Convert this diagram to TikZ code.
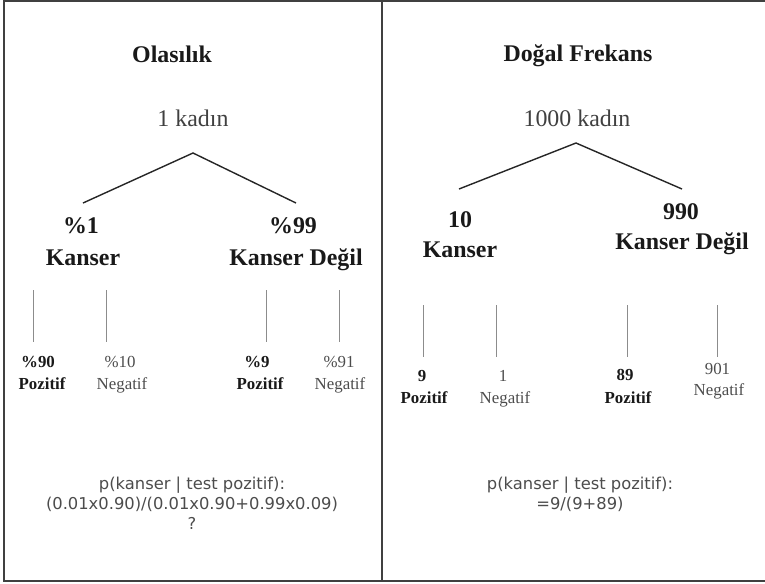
\documentclass[tikz,border=0pt]{standalone}
\usepackage{fontspec}
\setmainfont{Liberation Serif}
\newfontfamily\calcfont{DejaVu Sans}
\usepackage{tikz}
\usetikzlibrary{positioning}

\begin{document}
\begin{tikzpicture}[x=0.02cm, y=-0.02cm,
    frame/.style={draw=black!75, line width=1.1pt},
    branch/.style={draw=black!85, line width=0.8pt},
    leg/.style={draw=black!45, line width=0.5pt},
    head/.style={anchor=base, inner sep=0pt, text=black!90, font=\fontsize{13.6}{16}\selectfont\bfseries},
    count/.style={anchor=base, inner sep=0pt, text=black!75, font=\fontsize{13.6}{16}\selectfont},
    small/.style={anchor=base, inner sep=0pt, text=black!70, font=\fontsize{9.6}{11}\selectfont},
    smallb/.style={anchor=base, inner sep=0pt, text=black!90, font=\fontsize{9.6}{11}\selectfont\bfseries},
    calc/.style={anchor=base, inner sep=0pt, text=black!70, font=\fontsize{9.3}{11}\selectfont\calcfont}]
    \useasboundingbox (0,0) rectangle (765,583);
    
    % frame
    \path[frame] (765,1) -- (4,1) -- (4,581) -- (765,581);
    \path[frame] (382,1) -- (382,581);
    
    % left: probability
    \node[head] (titleL) at (172,62.5) {Olasılık};
    \node[count] (rootL) at (193,126.5) {1 kadın};
    
    \coordinate (apexL) at (193,153);
    \coordinate (endL1) at (83,203);
    \coordinate (endL2) at (296,203);
    \path[branch] (endL1) -- (apexL) -- (endL2);
    
    \node[head] (pctL1) at (81,233) {\%1};
    \node[head] (catL1) at (83,265) {Kanser};
    \node[head] (pctL2) at (293,233) {\%99};
    \node[head] (catL2) at (296,265) {Kanser Değil};
    
    % test legs left
    \coordinate (legL1a) at (33,290);  \coordinate (legL1b) at (33,342);
    \coordinate (legL2a) at (106,290); \coordinate (legL2b) at (106,342);
    \coordinate (legL3a) at (266,290); \coordinate (legL3b) at (266,342);
    \coordinate (legL4a) at (339,290); \coordinate (legL4b) at (339,342);
    \path[leg] (legL1a) -- (legL1b);
    \path[leg] (legL2a) -- (legL2b);
    \path[leg] (legL3a) -- (legL3b);
    \path[leg] (legL4a) -- (legL4b);
    
    \node[smallb] (valL1) at (38,367) {\%90};
    \node[smallb] (resL1) at (42,389) {Pozitif};
    \node[small] (valL2) at (120,367) {\%10};
    \node[small] (resL2) at (122,389) {Negatif};
    \node[smallb] (valL3) at (257,367) {\%9};
    \node[smallb] (resL3) at (260,389) {Pozitif};
    \node[small] (valL4) at (339,367) {\%91};
    \node[small] (resL4) at (340,389) {Negatif};
    
    \node[calc] (calcL1) at (192,489) {p(kanser | test pozitif):};
    \node[calc] (calcL2) at (192,509) {(0.01x0.90)/(0.01x0.90+0.99x0.09)};
    \node[calc] (calcL3) at (192,529) {?};
    
    % right: natural frequency
    \node[head] (titleR) at (578,61) {Doğal Frekans};
    \node[count] (rootR) at (577,126) {1000 kadın};
    
    \coordinate (apexR) at (576,143);
    \coordinate (endR1) at (459,189);
    \coordinate (endR2) at (682,189);
    \path[branch] (endR1) -- (apexR) -- (endR2);
    
    \node[head] (numR1) at (460,227) {10};
    \node[head] (catR1) at (460,257) {Kanser};
    \node[head] (numR2) at (681,219) {990};
    \node[head] (catR2) at (682,249) {Kanser Değil};
    
    % test legs right
    \coordinate (legR1a) at (423,305); \coordinate (legR1b) at (423,357);
    \coordinate (legR2a) at (496,305); \coordinate (legR2b) at (496,357);
    \coordinate (legR3a) at (627,305); \coordinate (legR3b) at (627,357);
    \coordinate (legR4a) at (717,305); \coordinate (legR4b) at (717,357);
    \path[leg] (legR1a) -- (legR1b);
    \path[leg] (legR2a) -- (legR2b);
    \path[leg] (legR3a) -- (legR3b);
    \path[leg] (legR4a) -- (legR4b);
    
    \node[smallb] (valR1) at (422,381) {9};
    \node[smallb] (resR1) at (424,403) {Pozitif};
    \node[small] (valR2) at (503,381) {1};
    \node[small] (resR2) at (505,403) {Negatif};
    \node[smallb] (valR3) at (625,380) {89};
    \node[smallb] (resR3) at (628,403) {Pozitif};
    \node[small] (valR4) at (717.5,374) {901};
    \node[small] (resR4) at (719,395) {Negatif};
    
    \node[calc] (calcR1) at (580,489) {p(kanser | test pozitif):};
    \node[calc] (calcR2) at (580,509) {=9/(9+89)};
\end{tikzpicture}
\end{document}
